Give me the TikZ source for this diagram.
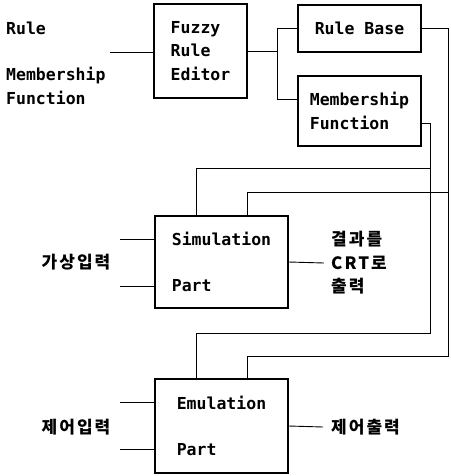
\documentclass[tikz,border=0pt]{standalone}
\usepackage{fontspec}
\setmonofont{DejaVu Sans Mono}
\newfontfamily\krfont[LetterSpace=12]{Noto Sans CJK KR}
\usetikzlibrary{positioning}

\begin{document}
\begin{tikzpicture}[
    x=1pt, y=-1pt,
    font=\ttfamily\bfseries\fontsize{16.5}{23.5}\selectfont,
    % Define styles for the blocks and wires
    box/.style={rectangle, draw=black, line width=1.1pt, align=left, inner sep=0pt},
    wire/.style={draw=black, line width=0.9pt},
    krlabel/.style={font=\krfont\bfseries\fontsize{17}{23.5}\selectfont, align=left, inner sep=0pt}
]
\useasboundingbox (0,0) rectangle (450,476);

% ==========================================
% Top: editor and its two stores
% ==========================================
\node[anchor=west, inner sep=0pt] (rulelbl) at (6,28) {Rule};
\node[anchor=west, inner sep=0pt, align=left] (mflbl) at (6,86) {Membership\\Function};
\node[box, minimum width=93pt, minimum height=94pt] (editor) at (200.5,51) {Fuzzy\\Rule\\Editor};
\node[box, minimum width=123pt, minimum height=47pt] (rb) at (359.5,28.5) {Rule Base};
\node[box, minimum width=123pt, minimum height=70pt] (mf) at (359.5,111) {Membership\\Function};

\coordinate (edin) at (110,52);
\draw[wire] (edin) -- (edin -| editor.west);
\draw[wire] (editor.east) -- ++(30,0) coordinate (br);
\draw[wire] (br) |- (rb.west);
\draw[wire] (br) |- ([yshift=12pt]mf.west);

% ==========================================
% Middle: simulation part
% ==========================================
\node[box, minimum width=133pt, minimum height=92pt] (sim) at (221.5,262) {Simulation\\[23pt]Part};
\node[krlabel] (simin) at (76,262) {가상입력};
\node[krlabel, anchor=west] (simout) at (331,263) {결과를\\CRT로\\출력};

\coordinate (simin1) at (120,239);
\coordinate (simin2) at (120,286);
\draw[wire] (simin1) -- (simin1 -| sim.west);
\draw[wire] (simin2) -- (simin2 -| sim.west);
\draw[wire] (sim.east) -- ([xshift=-7pt]simout.west);

% ==========================================
% Bottom: emulation part
% ==========================================
\node[box, minimum width=133pt, minimum height=94pt] (emul) at (221.5,426) {Emulation\\[23pt]Part};
\node[krlabel] (emulin) at (76,427) {제어입력};
\node[krlabel, anchor=west] (emulout) at (331,427) {제어출력};

\coordinate (emulin1) at (120,402);
\coordinate (emulin2) at (120,449);
\draw[wire] (emulin1) -- (emulin1 -| emul.west);
\draw[wire] (emulin2) -- (emulin2 -| emul.west);
\draw[wire] (emul.east) -- ([xshift=-8pt]emulout.west);

% Feed rule base and membership data down to both parts
\coordinate (rbdown) at (448,356);
\coordinate (rbtap) at (448,192);
\coordinate (mfdown) at (430,333);
\coordinate (mftap) at (430,168);
\draw[wire] (rb.east) -| (rbdown) -| ([xshift=25.5pt]emul.north);
\draw[wire] (rbtap) -| ([xshift=25.5pt]sim.north);
\draw[wire] ([yshift=-12pt]mf.east) -| (mfdown) -| ([xshift=-25.5pt]emul.north);
\draw[wire] (mftap) -| ([xshift=-25.5pt]sim.north);

\end{tikzpicture}
\end{document}
